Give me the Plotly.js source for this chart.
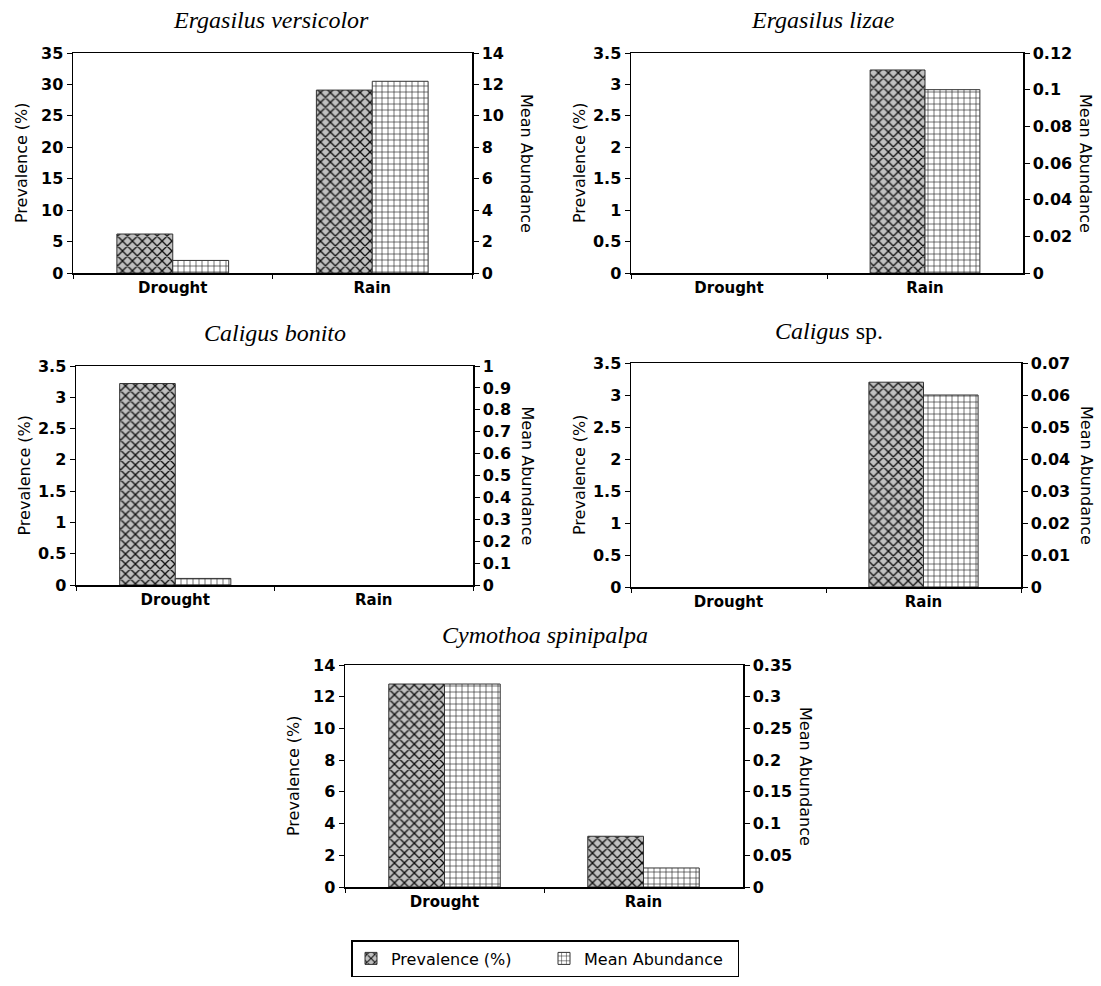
<!DOCTYPE html>
<html><head><meta charset="utf-8">
<script src="https://cdn.plot.ly/plotly-3.0.1.min.js"></script>
<style>body{margin:0;background:#fff}#chart{width:1101px;height:986px}</style>
</head><body><div id="chart"></div>
<script>
const categories = ["Drought", "Rain"];
const seriesNames = ["Prevalence (%)", "Mean Abundance"];
const panelTitles = ["<i>Ergasilus versicolor</i>", "<i>Ergasilus lizae</i>", "<i>Caligus bonito</i>", "<i>Caligus</i> sp.", "<i>Cymothoa spinipalpa</i>"];

const prevErgasilusVersicolor = [6.2, 29.1];
const abundErgasilusVersicolor = [0.8, 12.2];
const prevErgasilusLizae = [0, 3.23];
const abundErgasilusLizae = [0, 0.1];
const prevCaligusBonito = [3.22, 0];
const abundCaligusBonito = [0.03, 0];
const prevCaligusSp = [0, 3.2];
const abundCaligusSp = [0, 0.06];
const prevCymothoa = [12.8, 3.2];
const abundCymothoa = [0.32, 0.03];

const prevRanges = [[0, 35], [0, 3.5], [0, 3.5], [0, 3.5], [0, 14]];
const prevDticks = [5, 0.5, 0.5, 0.5, 2];
const abundRanges = [[0, 14], [0, 0.12], [0, 1], [0, 0.07], [0, 0.35]];
const abundDticks = [2, 0.02, 0.1, 0.01, 0.05];

const prevalence = [prevErgasilusVersicolor, prevErgasilusLizae, prevCaligusBonito, prevCaligusSp, prevCymothoa];
const abundance = [abundErgasilusVersicolor, abundErgasilusLizae, abundCaligusBonito, abundCaligusSp, abundCymothoa];

// layout geometry (pixels)
const W = 1101, H = 986;
const boxes = [[73, 472, 53, 273], [631, 1023, 53, 273], [76, 473, 366, 585], [631, 1021, 363, 587], [345, 743, 665, 887]];
const titlePos = [[271, 20], [823, 20], [275, 333], [829, 331], [545, 635]];
const rightTitleOffset = [55, 63, 54, 66, 63];
const leftTitleOffset = 52;

const px = x => x / W;
const py = y => 1 - y / H;

const tickFont = {family: "DejaVu Sans", size: 16, color: "#000", weight: "bold"};
const catFont = {family: "DejaVu Sans", size: 15, color: "#000", weight: "bold"};
const axTitleFont = {family: "DejaVu Sans", size: 16, color: "#000"};

const data = [];
const layout = {
  width: W, height: H,
  margin: {l: 0, r: 0, t: 0, b: 0},
  paper_bgcolor: "#fff", plot_bgcolor: "#fff",
  showlegend: true,
  legend: {
    orientation: "h", x: px(545), xanchor: "center", y: py(940), yanchor: "top",
    bordercolor: "#000", borderwidth: 1.5, bgcolor: "#fff",
    font: {family: "DejaVu Sans", size: 16, color: "#000"},
    entrywidth: 148, itemclick: false
  },
  annotations: [],
  bargap: 0
};

const prevPattern = {shape: "x", fgcolor: "#111", bgcolor: "#c0c0c0", size: 7, solidity: 0.35};
const abundPattern = {shape: "+", fgcolor: "#222", bgcolor: "#fff", size: 6, solidity: 0.2};
const outline = vals => vals.map(v => (v > 0 ? 1 : 0));

for (let i = 0; i < 5; i++) {
  const b = boxes[i];
  const xn = i + 1;
  const yl = 2 * i + 1, yr = 2 * i + 2;
  const xk = xn === 1 ? "x" : "x" + xn;
  const ylk = yl === 1 ? "y" : "y" + yl;
  const yrk = "y" + yr;

  data.push({
    type: "bar", x: categories, y: prevalence[i], xaxis: xk, yaxis: ylk,
    name: seriesNames[0], showlegend: i === 4, legendgroup: "p",
    width: 0.28, offset: -0.28,
    marker: {color: "#c0c0c0", pattern: prevPattern, line: {color: "#333", width: outline(prevalence[i])}},
    hoverinfo: "skip"
  });
  data.push({
    type: "bar", x: categories, y: abundance[i], xaxis: xk, yaxis: yrk,
    name: seriesNames[1], showlegend: i === 4, legendgroup: "a",
    width: 0.28, offset: 0,
    marker: {color: "#fff", pattern: abundPattern, line: {color: "#333", width: outline(abundance[i])}},
    hoverinfo: "skip"
  });

  layout[xn === 1 ? "xaxis" : "xaxis" + xn] = {
    domain: [px(b[0]), px(b[1])], anchor: ylk,
    type: "category", range: [-0.5, 1.5],
    showline: true, linecolor: "#000", linewidth: 1.5, mirror: true,
    ticks: "outside", tickson: "boundaries", ticklen: 4, tickcolor: "#000",
    tickfont: catFont, showgrid: false, zeroline: false, fixedrange: true
  };
  layout[yl === 1 ? "yaxis" : "yaxis" + yl] = {
    domain: [py(b[3]), py(b[2])], anchor: xk, side: "left",
    range: prevRanges[i], dtick: prevDticks[i], tick0: 0,
    showline: true, linecolor: "#000", linewidth: 1.5,
    ticks: "outside", ticklen: 5, tickcolor: "#000", tickfont: tickFont,
    showgrid: false, zeroline: false, fixedrange: true
  };
  layout["yaxis" + yr] = {
    overlaying: ylk, anchor: xk, side: "right",
    range: abundRanges[i], dtick: abundDticks[i], tick0: 0,
    showline: true, linecolor: "#000", linewidth: 1.5,
    ticks: "outside", ticklen: 5, tickcolor: "#000", tickfont: tickFont,
    showgrid: false, zeroline: false, fixedrange: true
  };

  layout.annotations.push({
    text: panelTitles[i], xref: "paper", yref: "paper",
    x: px(titlePos[i][0]), y: py(titlePos[i][1]), xanchor: "center", yanchor: "middle",
    showarrow: false, font: {family: "Liberation Serif", size: 24, color: "#000"}
  });
  layout.annotations.push({
    text: seriesNames[0], xref: "paper", yref: "paper",
    x: px(b[0] - leftTitleOffset), y: py((b[2] + b[3]) / 2), xanchor: "center", yanchor: "middle",
    textangle: -90, showarrow: false, font: axTitleFont
  });
  layout.annotations.push({
    text: seriesNames[1], xref: "paper", yref: "paper",
    x: px(b[1] + rightTitleOffset[i]), y: py((b[2] + b[3]) / 2), xanchor: "center", yanchor: "middle",
    textangle: 90, showarrow: false, font: axTitleFont
  });
}

Plotly.newPlot("chart", data, layout, {displayModeBar: false, staticPlot: true});
</script>
</body></html>
